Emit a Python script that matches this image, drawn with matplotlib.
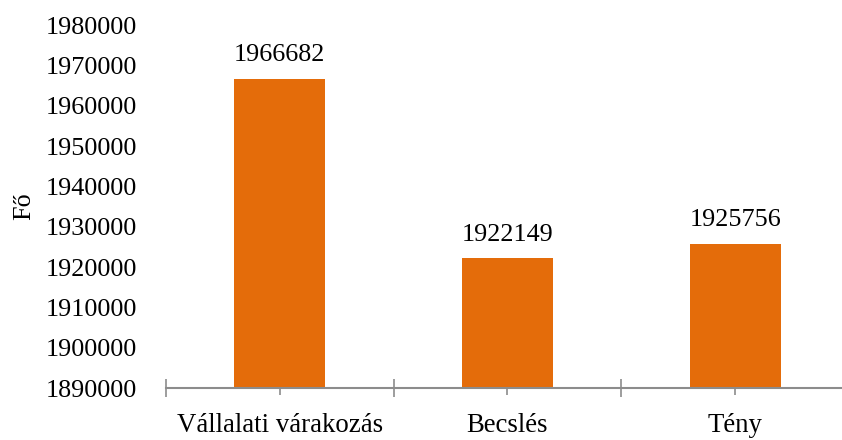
import matplotlib
matplotlib.use('Agg')
import matplotlib.pyplot as plt
import numpy as np
from matplotlib.ticker import FixedLocator, MultipleLocator

plt.rcParams['font.family'] = ['Liberation Serif', 'DejaVu Serif']

categories = ['Vállalati várakozás', 'Becslés', 'Tény']
values = [1966682, 1922149, 1925756]

BAR_COLOR = '#E46C0A'
AXIS_GRAY = '#8C8C8C'
FS = 18.8

fig = plt.figure(figsize=(8.42, 4.40), dpi=100)
ax = fig.add_axes([166 / 842, 52 / 440, 683 / 842, 363 / 440])

x = np.arange(len(categories))
bars = ax.bar(x, values, width=0.40, color=BAR_COLOR, zorder=2)

ax.set_xlim(-0.5, len(categories) - 0.5)
ax.set_ylim(1890000, 1980000)
ax.yaxis.set_major_locator(MultipleLocator(10000))
ax.yaxis.set_major_formatter(matplotlib.ticker.FuncFormatter(lambda v, p: f'{int(round(v))}'))

# értékcímkék az oszlopok fölött
for b, v in zip(bars, values):
    ax.annotate(f'{v}', (b.get_x() + b.get_width() / 2, v),
                xytext=(0, 9), textcoords='offset points',
                ha='center', va='bottom', fontsize=FS)

for s in ['top', 'right', 'left']:
    ax.spines[s].set_visible(False)
ax.spines['bottom'].set_color(AXIS_GRAY)
ax.spines['bottom'].set_linewidth(1.5)
ax.spines['bottom'].set_zorder(3)

ax.set_xticks(x)
ax.set_xticklabels(categories, fontsize=FS + 0.5)
ax.xaxis.set_minor_locator(FixedLocator(np.arange(-0.5, len(categories), 1.0)))
ax.tick_params(axis='x', which='major', direction='inout', length=9.5,
               width=1.2, color=AXIS_GRAY, pad=13)
ax.tick_params(axis='x', which='minor', direction='inout', length=12.5,
               width=1.2, color=AXIS_GRAY)
ax.tick_params(axis='y', length=0, pad=21, labelsize=FS)

ax.set_ylabel('Fő', fontsize=FS)
ax.yaxis.set_label_coords(-0.192, 0.5)

fig.savefig('out.png', dpi=100)
